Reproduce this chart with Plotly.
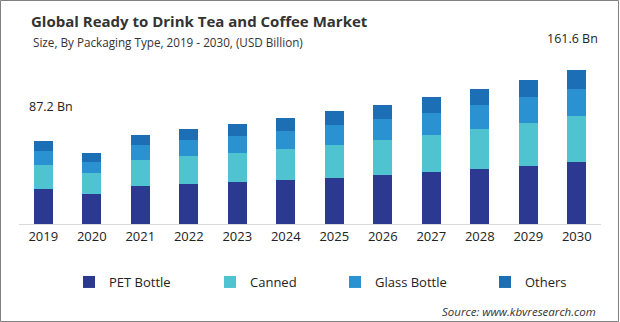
import plotly.graph_objects as go

years = ["2019", "2020", "2021", "2022", "2023", "2024", "2025", "2026", "2027", "2028", "2029", "2030"]
pet_bottle = [36.8, 31.5, 39.9, 42.0, 44.1, 46.2, 48.3, 51.5, 54.6, 57.8, 60.9, 65.1]
canned = [25.2, 22.1, 27.3, 29.4, 30.5, 32.6, 34.7, 36.8, 38.9, 42.0, 45.2, 48.3]
glass_bottle = [14.7, 11.9, 15.8, 16.8, 17.9, 18.9, 21.0, 22.1, 23.1, 25.2, 27.3, 28.4]
others = [10.5, 9.5, 10.5, 11.6, 12.6, 13.7, 14.7, 14.7, 16.8, 16.8, 17.9, 19.8]

series_names = ["PET Bottle", "Canned", "Glass Bottle", "Others"]
series_values = [pet_bottle, canned, glass_bottle, others]
series_colors = ["#2b3990", "#4fc3cf", "#2a92d0", "#1c6fb4"]
legend_widths = [96, 80, 105, 60]

W, H = 620, 322
ML, MR, MT, MB = 19, 19, 50, 98
PW = W - ML - MR
PH = H - MT - MB
YMAX = PH * 1.05

def px(xp):
    return (xp - ML) / PW

def py(yp):
    return (H - MB - yp) / PH

fig = go.Figure()
for name, vals, col, lw in zip(series_names, series_values, series_colors, legend_widths):
    fig.add_trace(go.Bar(x=years, y=vals, name=name, marker=dict(color=col, line=dict(width=0)),
                         legendwidth=lw, hoverinfo="x+y+name"))

font_family = "Open Sans, DejaVu Sans, sans-serif"

fig.update_layout(
    width=W, height=H,
    margin=dict(l=ML, r=MR, t=MT, b=MB, pad=0),
    barmode="stack",
    bargap=0.6,
    plot_bgcolor="white",
    paper_bgcolor="white",
    font=dict(family=font_family, color="#222222"),
    title=dict(text="<b>Global Ready to Drink Tea and Coffee Market</b>",
               font=dict(size=15, color="#333333", family=font_family),
               xref="container", yref="container", x=31 / W, xanchor="left",
               y=1 - 22 / H, yanchor="middle"),
    xaxis=dict(showgrid=False, showline=True, linecolor="#d9d9d9", linewidth=1,
               ticks="", tickfont=dict(size=13, color="#222222"), fixedrange=True),
    yaxis=dict(visible=False, range=[0, YMAX], fixedrange=True),
    legend=dict(orientation="h", xref="container", yref="container",
                x=69 / W, xanchor="left", y=1 - 282 / H, yanchor="middle",
                font=dict(size=13, color="#222222"), traceorder="normal",
                itemclick=False, itemdoubleclick=False),
    showlegend=True,
)

fig.add_annotation(text="Size, By Packaging Type, 2019 - 2030, (USD Billion)",
                   xref="paper", yref="paper", x=px(31), y=py(42),
                   xanchor="left", yanchor="middle", showarrow=False,
                   font=dict(size=11.7, color="#333333"))
fig.add_annotation(text=f"{sum(v[0] for v in series_values):.1f} Bn",
                   xref="paper", yref="paper", x=px(27), y=py(106),
                   xanchor="left", yanchor="middle", showarrow=False,
                   font=dict(size=12.5, color="#222222"))
fig.add_annotation(text=f"{sum(v[-1] for v in series_values):.1f} Bn",
                   xref="paper", yref="paper", x=px(600), y=py(38),
                   xanchor="right", yanchor="middle", showarrow=False,
                   font=dict(size=12.5, color="#222222"))
fig.add_annotation(text="<i>Source: www.kbvresearch.com</i>",
                   xref="paper", yref="paper", x=px(598), y=py(311),
                   xanchor="right", yanchor="middle", showarrow=False,
                   font=dict(size=11.5, color="#333333"))

fig.add_shape(type="rect", xref="paper", yref="paper",
              x0=px(0.5), x1=px(W - 1.5), y0=py(H - 0.5), y1=py(0.5),
              line=dict(color="#808080", width=1), fillcolor="rgba(0,0,0,0)", layer="above")

fig.write_html("out.html", config={"displayModeBar": False})
